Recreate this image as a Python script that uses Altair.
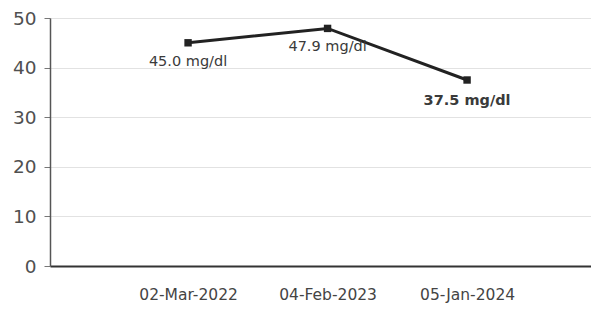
import altair as alt
import pandas as pd

dates = ["02-Mar-2022", "04-Feb-2023", "05-Jan-2024"]
values = [45.0, 47.9, 37.5]
labels = ["45.0 mg/dl", "47.9 mg/dl", "37.5 mg/dl"]
bold = [False, False, True]

df = pd.DataFrame({"date": dates, "value": values, "label": labels, "bold": bold})

x = alt.X("date:N", sort=dates, title=None,
          scale=alt.Scale(type="point", padding=0.939, align=0.527),
          axis=alt.Axis(labelAngle=0, labelFont="DejaVu Sans", labelFontSize=15.5,
                        labelColor="#444444", labelPadding=21, ticks=False,
                        domainColor="#333333", domainWidth=2, grid=False))
y = alt.Y("value:Q", title=None,
          scale=alt.Scale(domain=[0, 50], nice=False),
          axis=alt.Axis(values=[0, 10, 20, 30, 40, 50], labelFont="DejaVu Sans",
                        labelFontSize=18.5, labelColor="#505050", labelPadding=8,
                        tickSize=6, tickColor="#777777", domainColor="#555555",
                        domainWidth=1.5, gridColor="#e2e2e2", gridWidth=1))

base = alt.Chart(df)
line = base.mark_line(color="#222222", strokeWidth=3).encode(x=x, y=y)
pts = base.mark_square(color="#222222", size=55, opacity=1).encode(x=x, y=y)
txt_n = base.transform_filter("!datum.bold").mark_text(
    font="DejaVu Sans", fontSize=14.5, color="#3a3a3a", dy=19).encode(x=x, y=y, text="label:N")
txt_b = base.transform_filter("datum.bold").mark_text(
    font="DejaVu Sans", fontSize=14.5, fontWeight="bold", color="#3a3a3a", dy=21).encode(x=x, y=y, text="label:N")

chart = alt.layer(line, pts, txt_n, txt_b).properties(
    width=541, height=248,
    autosize=alt.AutoSizeParams(type="none"),
    padding={"left": 42, "top": 10, "right": 0, "bottom": 39},
).configure_view(stroke=None).configure(background="white")

chart.save("out.html", embed_options={"renderer": "svg", "actions": False})
